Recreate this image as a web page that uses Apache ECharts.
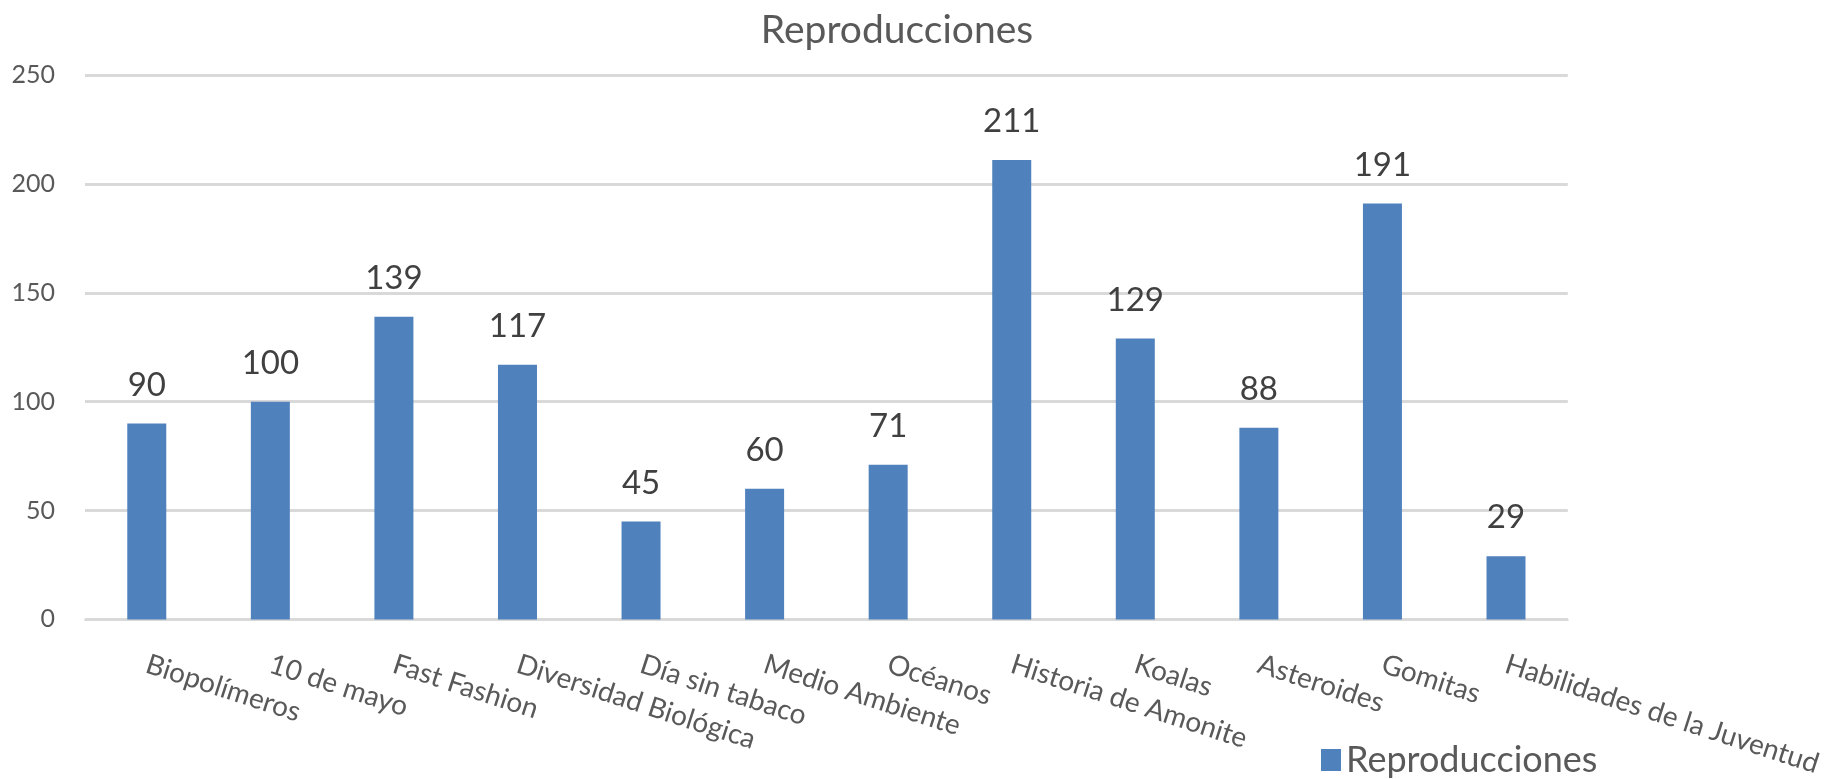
<!DOCTYPE html>
<html><head><meta charset="utf-8">
<script src="https://cdn.jsdelivr.net/npm/echarts@6/dist/echarts.min.js"></script>
<style>html,body{margin:0;padding:0;background:#fff}#c{width:1825px;height:779px}</style>
</head><body><div id="c"></div>
<script>
const categories = ["Biopolímeros","10 de mayo","Fast Fashion","Diversidad Biológica","Día sin tabaco","Medio Ambiente","Océanos","Historia de Amonite","Koalas","Asteroides","Gomitas","Habilidades de la Juventud"];
const values = [90,100,139,117,45,60,71,211,129,88,191,29];
const seriesName = "Reproducciones";
const FONT = "Lato";
const chart = echarts.init(document.getElementById('c'));
chart.setOption({
  animation:false,
  title:{text:"Reproducciones",left:892,top:6,textAlign:'center',textStyle:{fontFamily:FONT,fontSize:39,fontWeight:'normal',color:'#595959'}},
  legend:{data:[seriesName],left:1316,top:737,itemWidth:20,itemHeight:22,itemGap:8,icon:'rect',textStyle:{fontFamily:FONT,fontSize:36,color:'#595959'}},
  grid:{left:85,right:256,top:75,bottom:158,containLabel:false},
  xAxis:{type:'category',data:categories,axisTick:{show:false},axisLine:{lineStyle:{color:'#D9D9D9',width:2}},
    axisLabel:{rotate:-18,margin:44,interval:0,fontFamily:FONT,fontSize:28,color:'#595959'}},
  yAxis:{type:'value',min:0,max:250,interval:50,axisLine:{show:false},axisTick:{show:false},
    splitLine:{lineStyle:{color:'#D9D9D9',width:3}},axisLabel:{margin:30,fontFamily:FONT,fontSize:25,color:'#595959'}},
  series:[{name:seriesName,type:'bar',data:values,barWidth:39,itemStyle:{color:'#4F81BD'},
    label:{show:true,position:'top',distance:22,fontFamily:FONT,fontSize:33,color:'#404040'}}]
});
</script></body></html>
